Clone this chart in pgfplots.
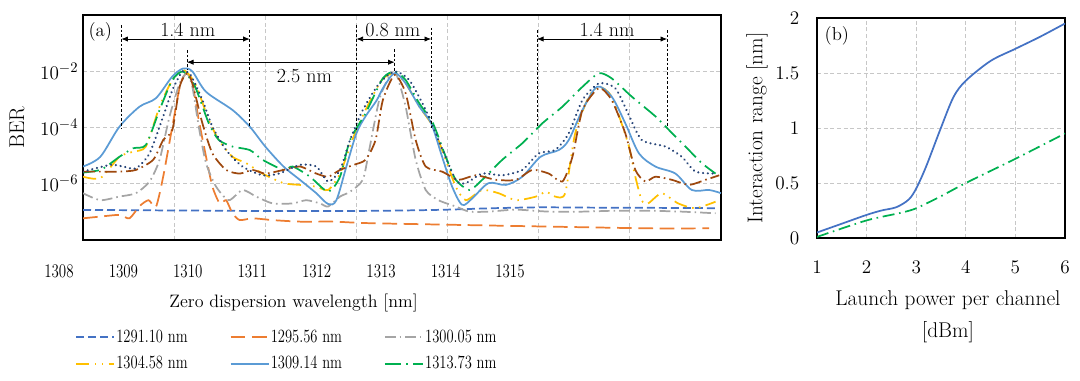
\documentclass[border=0pt]{standalone}
\usepackage{fontspec}
\usepackage{graphicx}
\usepackage{pgfplots}
\pgfplotsset{compat=1.18}
\usetikzlibrary{arrows.meta}
\definecolor{cA}{HTML}{4472C4}
\definecolor{cB}{HTML}{ED7D31}
\definecolor{cC}{HTML}{A5A5A5}
\definecolor{cD}{HTML}{FFC000}
\definecolor{cE}{HTML}{5B9BD5}
\definecolor{cF}{HTML}{00B050}
\definecolor{cG}{HTML}{9E480E}
\definecolor{cH}{HTML}{264478}
\newcommand{\ff}{\fontsize{15}{18}\selectfont}
\newcommand{\fs}{\fontsize{14}{16}\selectfont}
\newcommand{\fb}{\fontsize{16}{19}\selectfont}
\newcommand{\legtxt}[1]{\makebox[84pt][l]{\scalebox{0.78}[1]{#1}}}
\pgfplotsset{
  every axis/.append style={font=\ff},
  tick label style={font=\ff},
  label style={font=\ff},
  mygrid/.style={grid=major, major grid style={dash pattern=on 3pt off 2pt, black!22, line width=0.5pt}},
}
\begin{document}
\begin{tikzpicture}
\useasboundingbox (0pt,0pt) rectangle (810pt,285.75pt);
% ---------------- panel (a) ----------------
\begin{axis}[
  at={(62.25pt,105.75pt)}, anchor=south west, scale only axis,
  width=478.5pt, height=168.75pt,
  xmin=1308, xmax=1315, ymode=log, ymin=1e-8, ymax=1,
  xtick={1308,...,1315}, xticklabels={},
  ytick={1e-6,1e-4,1e-2},
  mygrid, major tick length=0pt,
  axis line style={line width=1.1pt},
  no markers,
  ylabel={BER}, ylabel style={font=\fb, at={(axis description cs:-0.1035,0.5)}, anchor=center},
  xlabel={Zero dispersion wavelength [nm]},
  xlabel style={font=\fontsize{13.5}{16}\selectfont, at={(axis description cs:0.33,-0.28)}, anchor=center},
  legend style={at={(axis description cs:-0.0125,-0.387)}, anchor=north west, draw=none, fill=none,
     inner sep=0pt, font=\fs, row sep=5pt, column sep=0pt,
     nodes={inner sep=1pt, text height=10pt, text depth=3pt}},
  legend columns=3, legend cell align=left,
  legend image code/.code={\draw[#1] (0pt,0pt) -- (28.5pt,0pt);},
]
\addplot[cA, line width=1.3pt, dash pattern=on 6pt off 3pt, smooth] coordinates {
(1308,1.17e-7)(1308.5,1.15e-7)(1309,1.12e-7)(1309.5,1.1e-7)(1310,1.07e-7)(1310.5,1.08e-7)(1311,1.08e-7)(1311.5,1.12e-7)(1312,1.2e-7)(1312.5,1.35e-7)(1313,1.45e-7)(1313.5,1.42e-7)(1314,1.4e-7)(1314.5,1.38e-7)(1314.95,1.35e-7)};
\addlegendentry{\legtxt{1291.10 nm}}
\addplot[cB, line width=1.3pt, dash pattern=on 11pt off 5pt, smooth, tension=0.4] coordinates {
(1308.0,5.9e-8)(1308.19,6.8e-8)(1308.4,7.8e-8)(1308.51,5.9e-8)(1308.62,1.6e-7)(1308.72,2.6e-7)(1308.8,1.5e-7)(1308.88,1.8e-6)(1308.98,1.07e-4)(1309.07,3.7e-3)(1309.14,8.5e-3)(1309.2,3.7e-3)(1309.27,1.86e-4)(1309.35,9.1e-6)(1309.42,7.9e-7)(1309.5,2.0e-7)(1309.57,2.6e-7)(1309.64,8.9e-8)(1309.72,5.1e-8)(1309.86,5.9e-8)(1310.08,5.1e-8)(1310.38,4.5e-8)(1310.75,4.5e-8)(1311.1,4.0e-8)(1312.0,3.5e-8)(1313.1,3.0e-8)(1314.2,2.6e-8)(1314.87,2.6e-8)};
\addlegendentry{\legtxt{1295.56 nm}}
\addplot[cC, line width=1.3pt, dash pattern=on 8pt off 3pt on 1.2pt off 3pt, smooth, tension=0.4] coordinates {
(1308.0,4.6e-7)(1308.19,2.6e-7)(1308.4,3.5e-7)(1308.58,4.6e-7)(1308.73,1.2e-6)(1308.84,7.1e-6)(1308.95,2.5e-4)(1309.06,3.7e-3)(1309.14,8.5e-3)(1309.2,2.8e-3)(1309.27,1.07e-4)(1309.35,5.4e-6)(1309.46,7.9e-7)(1309.6,2.6e-7)(1309.75,6.0e-7)(1309.9,3.5e-7)(1310.08,2.0e-7)(1310.3,2.0e-7)(1310.45,2.6e-7)(1310.6,2.0e-7)(1310.69,1.55e-7)(1310.82,3.5e-7)(1310.93,5.2e-7)(1311.07,1.38e-6)(1311.14,1.58e-5)(1311.25,9.5e-4)(1311.36,6.5e-3)(1311.44,7.4e-3)(1311.54,5.5e-4)(1311.65,7.1e-6)(1311.76,6.0e-7)(1311.9,2.6e-7)(1312.09,1.55e-7)(1312.24,1.02e-7)(1312.45,1.02e-7)(1312.75,1.2e-7)(1313.11,1.02e-7)(1313.48,1.02e-7)(1313.84,1.1e-7)(1314.2,1.1e-7)(1314.57,1.02e-7)(1314.94,8.9e-8)};
\addlegendentry{\legtxt{1300.05 nm}}
\addplot[cD, line width=1.3pt, dash pattern=on 10pt off 4pt on 1.2pt off 4pt on 1.2pt off 4pt, smooth, tension=0.4] coordinates {
(1308.0,1.78e-6)(1308.19,1.58e-6)(1308.4,9.1e-6)(1308.55,1.38e-5)(1308.69,2.1e-5)(1308.84,5.5e-4)(1308.98,4.9e-3)(1309.1,1.12e-2)(1309.23,3.7e-3)(1309.38,1.86e-4)(1309.49,3.6e-5)(1309.64,9.1e-6)(1309.79,5.4e-6)(1309.97,2.3e-6)(1310.2,1.05e-6)(1310.38,9.1e-7)(1310.56,7.9e-7)(1310.69,6.0e-7)(1310.82,2.3e-6)(1310.97,4.8e-5)(1311.1,4.2e-4)(1311.28,5.0e-3)(1311.42,8.5e-3)(1311.54,3.7e-3)(1311.69,5.5e-4)(1311.84,1.07e-4)(1311.98,7.1e-6)(1312.09,7.9e-7)(1312.2,2.6e-7)(1312.38,6.0e-7)(1312.56,4.6e-7)(1312.75,2.6e-7)(1312.97,3.5e-7)(1313.08,5.2e-7)(1313.18,3.5e-7)(1313.29,4.6e-7)(1313.4,6.2e-5)(1313.55,1.26e-3)(1313.66,2.8e-3)(1313.8,1.26e-3)(1313.98,2.75e-5)(1314.06,1.78e-6)(1314.13,2.6e-7)(1314.2,2.0e-7)(1314.35,4.6e-7)(1314.53,2.0e-7)(1314.72,1.35e-7)(1314.94,2.3e-7)};
\addlegendentry{\legtxt{1304.58 nm}}
\addplot[cE, line width=1.3pt, smooth, tension=0.5] coordinates {
(1308.0,4.1e-6)(1308.19,9.1e-6)(1308.4,1.07e-4)(1308.62,5.5e-4)(1308.8,1.1e-3)(1308.98,6.5e-3)(1309.1,1.26e-2)(1309.2,9.8e-3)(1309.35,1.86e-3)(1309.64,4.2e-4)(1309.83,1.07e-4)(1310.0,2.1e-5)(1310.2,4.1e-6)(1310.38,1.38e-6)(1310.56,4.6e-7)(1310.69,1.9e-7)(1310.78,2.6e-7)(1310.89,4.1e-6)(1311.0,6.2e-5)(1311.1,2.5e-4)(1311.22,9.0e-4)(1311.3,2.8e-3)(1311.42,8.5e-3)(1311.54,3.7e-3)(1311.69,5.5e-4)(1311.82,1.41e-4)(1311.94,9.1e-6)(1312.05,7.9e-7)(1312.16,1.78e-7)(1312.27,3.0e-7)(1312.45,1.05e-6)(1312.64,9.1e-7)(1312.82,1.78e-6)(1313.02,9.1e-6)(1313.22,1.58e-5)(1313.33,3.6e-5)(1313.48,4.2e-4)(1313.64,2.8e-3)(1313.8,1.26e-3)(1313.95,1.41e-4)(1314.1,1.2e-5)(1314.28,4.1e-6)(1314.5,2.3e-6)(1314.68,6.0e-7)(1314.87,6.0e-7)(1315.0,4.6e-7)};
\addlegendentry{\legtxt{1309.14 nm}}
\addplot[cF, line width=1.3pt, dash pattern=on 12pt off 4pt on 1.2pt off 4pt, smooth, tension=0.4] coordinates {
(1308.0,2.5e-6)(1308.2,3.2e-6)(1308.4,9.1e-6)(1308.55,1.82e-5)(1308.69,2.4e-5)(1308.84,4.2e-4)(1308.98,4.9e-3)(1309.1,9.8e-3)(1309.23,2.8e-3)(1309.38,1.41e-4)(1309.49,3.6e-5)(1309.64,2.1e-5)(1309.83,1.58e-5)(1309.97,7.1e-6)(1310.2,3.1e-6)(1310.3,4.1e-6)(1310.49,1.78e-6)(1310.69,5.2e-7)(1310.82,1.78e-6)(1310.93,3.6e-5)(1311.1,3.2e-4)(1311.29,5.6e-3)(1311.42,9.8e-3)(1311.54,4.9e-3)(1311.69,7.2e-4)(1311.84,1.41e-4)(1311.98,9.1e-6)(1312.09,1.38e-6)(1312.24,6.0e-7)(1312.38,1.38e-6)(1312.6,7.1e-6)(1312.82,2.75e-5)(1313.04,1.41e-4)(1313.26,5.5e-4)(1313.48,2.8e-3)(1313.66,8.5e-3)(1313.8,5.6e-3)(1314.02,1.26e-3)(1314.28,2.5e-4)(1314.43,8.1e-5)(1314.61,2.1e-5)(1314.79,5.4e-6)(1314.94,2.3e-6)};
\addlegendentry{\legtxt{1313.73 nm}}
\addplot[cG, line width=1.3pt, dash pattern=on 9pt off 3pt on 1.2pt off 3pt, smooth, tension=0.4, forget plot] coordinates {
(1308.0,2.7e-6)(1308.19,2.7e-6)(1308.4,2.7e-6)(1308.58,3.1e-6)(1308.77,7.1e-6)(1308.88,3.6e-5)(1308.98,8.1e-5)(1309.06,2.8e-3)(1309.14,8.5e-3)(1309.2,3.7e-3)(1309.31,1.41e-4)(1309.42,1.2e-5)(1309.57,3.1e-6)(1309.72,2.3e-6)(1309.86,3.1e-6)(1310.0,2.3e-6)(1310.2,3.1e-6)(1310.38,4.1e-6)(1310.56,2.3e-6)(1310.69,1.78e-6)(1310.82,3.1e-6)(1310.97,4.7e-6)(1311.1,7.1e-6)(1311.21,3.6e-5)(1311.29,9.5e-4)(1311.42,7.4e-3)(1311.54,1.66e-3)(1311.65,3.6e-5)(1311.76,4.1e-6)(1311.94,2.7e-6)(1312.12,1.38e-6)(1312.31,2.0e-6)(1312.53,1.38e-6)(1312.75,1.38e-6)(1312.93,3.1e-6)(1313.11,2.3e-6)(1313.26,1.2e-6)(1313.37,9.1e-6)(1313.48,4.2e-4)(1313.66,2.5e-3)(1313.8,9.5e-4)(1313.95,6.2e-5)(1314.06,3.1e-6)(1314.17,1.2e-6)(1314.28,1.78e-6)(1314.46,1.38e-6)(1314.65,9.1e-7)(1314.83,1.38e-6)(1314.98,2.0e-6)};
\addplot[cH, line width=1.8pt, line cap=round, dash pattern=on 0.01pt off 3.6pt, smooth, tension=0.4, forget plot] coordinates {
(1308.0,2.7e-6)(1308.3,4.7e-6)(1308.44,4.1e-6)(1308.58,3.5e-6)(1308.73,1.2e-5)(1308.88,2.5e-4)(1308.98,2.1e-3)(1309.09,9.8e-3)(1309.18,7.4e-3)(1309.31,9.5e-4)(1309.42,1.07e-4)(1309.57,1.58e-5)(1309.75,4.1e-6)(1309.97,2.0e-6)(1310.15,2.3e-6)(1310.38,4.7e-6)(1310.56,4.1e-6)(1310.69,1.2e-6)(1310.82,3.1e-6)(1310.93,3.6e-5)(1311.07,4.2e-4)(1311.25,3.7e-3)(1311.42,9.8e-3)(1311.58,4.9e-3)(1311.76,4.2e-4)(1311.93,2.1e-5)(1312.09,1.38e-6)(1312.2,1.05e-6)(1312.38,2.3e-6)(1312.6,2.0e-6)(1312.82,3.1e-6)(1313.0,1.2e-5)(1313.18,1.58e-5)(1313.33,6.2e-5)(1313.48,9.5e-4)(1313.66,3.7e-3)(1313.84,2.5e-3)(1313.98,3.2e-4)(1314.13,3.6e-5)(1314.39,2.1e-5)(1314.57,9.1e-6)(1314.72,2.7e-6)(1314.94,2.3e-6)};
% annotations
\draw[black, line width=0.5pt, dash pattern=on 2pt off 1.5pt]
  (axis cs:1308.42,0.44) -- (axis cs:1308.42,9.5e-5)
  (axis cs:1309.83,0.29) -- (axis cs:1309.83,9.5e-5)
  (axis cs:1309.14,0.057) -- (axis cs:1309.14,0.011)
  (axis cs:1311.0,0.44) -- (axis cs:1311.0,8.1e-5)
  (axis cs:1311.82,0.35) -- (axis cs:1311.82,9.5e-5)
  (axis cs:1311.42,0.06) -- (axis cs:1311.42,0.01)
  (axis cs:1312.98,0.29) -- (axis cs:1312.98,9.5e-5)
  (axis cs:1314.41,0.29) -- (axis cs:1314.41,9.5e-5);
\draw[{Latex[length=5pt,width=4pt]}-{Latex[length=5pt,width=4pt]}, line width=0.6pt]
  (axis cs:1308.42,0.14) -- (axis cs:1309.83,0.14);
\draw[{Latex[length=5pt,width=4pt]}-{Latex[length=5pt,width=4pt]}, line width=0.6pt]
  (axis cs:1309.14,0.021) -- (axis cs:1311.42,0.021);
\draw[{Latex[length=5pt,width=4pt]}-{Latex[length=5pt,width=4pt]}, line width=0.6pt]
  (axis cs:1311.0,0.14) -- (axis cs:1311.82,0.14);
\draw[{Latex[length=5pt,width=4pt]}-{Latex[length=5pt,width=4pt]}, line width=0.6pt]
  (axis cs:1312.98,0.14) -- (axis cs:1314.41,0.14);
\node[font=\ff] at (axis cs:1309.15,0.29) {1.4 nm};
\node[font=\ff] at (axis cs:1310.43,6.8e-3) {2.5 nm};
\node[font=\ff] at (axis cs:1311.40,0.29) {0.8 nm};
\node[font=\ff] at (axis cs:1313.75,0.29) {1.4 nm};
\node[font=\fs] at (axis cs:1308.19,0.25) {(a)};
\end{axis}
% tick labels of panel (a), as drawn in the reference
\begin{axis}[
  at={(44.25pt,90.75pt)}, anchor=south west, scale only axis,
  width=338.25pt, height=1pt,
  xmin=1308, xmax=1315, ymin=0, ymax=1,
  axis line style={draw=none}, ytick=\empty,
  xtick={1308,...,1315}, major tick length=0pt,
  xticklabel style={font=\fs, xscale=0.78, /pgf/number format/1000 sep={}},
]
\end{axis}
% ---------------- panel (b) ----------------
\begin{axis}[
  at={(612.75pt,107.25pt)}, anchor=south west, scale only axis,
  width=186pt, height=165pt,
  xmin=1, xmax=6, ymin=0, ymax=2,
  xtick={1,2,3,4,5,6}, ytick={0,0.5,1,1.5,2},
  mygrid, major tick length=0pt,
  axis line style={line width=1.1pt},
  no markers,
  xticklabel style={yshift=-13.5pt}, yticklabel style={xshift=-9.75pt},
  ylabel={Interaction range [nm]},
  ylabel style={font=\fb, at={(axis description cs:-0.242,0.5)}, anchor=center},
  xlabel={Launch power per channel\\[5pt]{[dBm]}},
  xlabel style={font=\fb, align=center, at={(axis description cs:0.528,-0.359)}, anchor=center},
]
\addplot[cA, line width=1.3pt, smooth, tension=0.5] coordinates {
(1,0.05)(1.5,0.13)(2,0.21)(2.3,0.25)(2.6,0.28)(2.85,0.35)(3.0,0.45)(3.2,0.65)(3.48,0.98)(3.75,1.28)(4.0,1.43)(4.5,1.61)(5.0,1.72)(5.5,1.83)(6.0,1.95)};
\addplot[cF, line width=1.3pt, dash pattern=on 9pt off 3.5pt on 1.2pt off 3.5pt, smooth, tension=0.4] coordinates {
(1,0.01)(2,0.16)(2.7,0.23)(3,0.27)(3.5,0.38)(4,0.5)(5,0.72)(6,0.95)};
\node[font=\fs] at (axis cs:1.40,1.84) {(b)};
\end{axis}
\end{tikzpicture}
\end{document}
